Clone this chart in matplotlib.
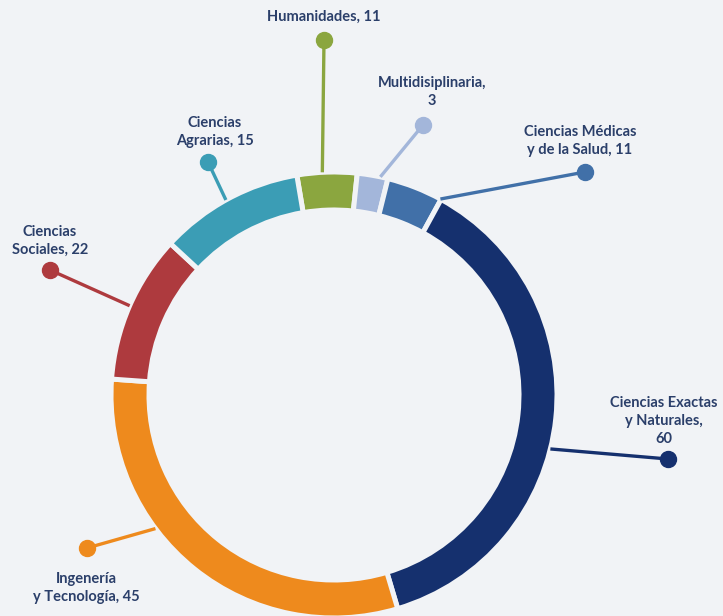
import numpy as np
import matplotlib.pyplot as plt

# categories and counts as printed in the labels
categories = ['Humanidades', 'Multidisiplinaria', 'Ciencias Médicas\ny de la Salud',
              'Ciencias Exactas\ny Naturales', 'Ingenería\ny Tecnología',
              'Ciencias\nSociales', 'Ciencias\nAgrarias']
counts = [11, 3, 11, 60, 45, 22, 15]
# arc share of each segment as drawn in the reference (degrees)
arc_deg = [15.6, 8.0, 14.7, 134.7, 110.7, 38.7, 37.6]

colors = ['#8ba63f', '#a3b6da', '#4170a8', '#15306e', '#ee8a1d', '#ae3a3e', '#3b9db5']
BG = '#f1f3f6'
TXT = '#2b3f6a'

# layout in pixel units (y up)
W, H = 723, 616
CX, CY = 334, 616 - 395
R, RING = 223, 38

# leader: angle where it meets the ring, dot position, label position
anchor_ang = [93.0, 78.0, 61.5, -14.0, 216.8, 156.4, 119.0]
dot_xy = [(324, 40), (423, 125), (585, 172), (668, 459), (87, 548), (50, 270), (208, 162)]
label_xy = [(324, 17), (432, 92), (580, 141), (664, 421), (86, 588), (50, 241), (215, 132)]
label_txt = [f'{c.split(chr(10))[0]},\n{n}' if c == 'Multidisiplinaria' else f'{c}, {n}'
             for c, n in zip(categories, counts)]
label_txt[3] = 'Ciencias Exactas\ny Naturales,\n60'

fig = plt.figure(figsize=(W / 100, H / 100), dpi=100, facecolor=BG)
ax = fig.add_axes([0, 0, 1, 1])
ax.set_facecolor(BG)

ax.pie(arc_deg, colors=colors, startangle=99.6, counterclock=False,
       radius=R, center=(CX, CY),
       wedgeprops=dict(width=RING, edgecolor=BG, linewidth=3.6))

for i in range(len(categories)):
    a = np.radians(anchor_ang[i])
    x0 = CX + R * np.cos(a)
    y0 = CY + R * np.sin(a)
    dx, dy = dot_xy[i]
    ax.plot([x0, dx], [y0, H - dy], color=colors[i], lw=2.4, solid_capstyle='butt', zorder=3)
    ax.plot(dx, H - dy, 'o', color=colors[i], ms=11.5, zorder=4)
    lx, ly = label_xy[i]
    ax.text(lx, H - ly, label_txt[i], ha='center', va='center', color=TXT,
            fontsize=10.5, fontweight='bold', family='Lato', linespacing=1.35)

ax.set_xlim(0, W)
ax.set_ylim(0, H)
ax.set_aspect('equal')
ax.axis('off')
fig.savefig('out.png', dpi=100, facecolor=BG)
